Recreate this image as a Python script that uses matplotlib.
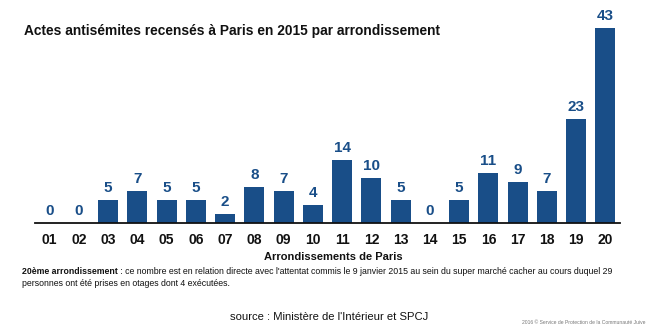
import matplotlib
matplotlib.use("Agg")
import matplotlib.pyplot as plt

arrondissements = ["01", "02", "03", "04", "05", "06", "07", "08", "09", "10",
                   "11", "12", "13", "14", "15", "16", "17", "18", "19", "20"]
actes = [0, 0, 5, 7, 5, 5, 2, 8, 7, 4, 14, 10, 5, 0, 5, 11, 9, 7, 23, 43]

title = "Actes antisémites recensés à Paris en 2015 par arrondissement"
xlabel = "Arrondissements de Paris"
note_bold = "20ème arrondissement"
note_line1 = " : ce nombre est en relation directe avec l'attentat commis le 9 janvier 2015 au sein du super marché cacher au cours duquel 29"
note_line2 = "personnes ont été prises en otages dont 4 exécutées."
source = "source : Ministère de l'Intérieur et SPCJ"
credit = "2016 © Service de Protection de la Communauté Juive"

BLUE = "#194e88"
plt.rcParams["font.family"] = ["Liberation Sans", "DejaVu Sans"]

W, H = 660, 330
fig = plt.figure(figsize=(W / 100, H / 100), dpi=100)
fig.patch.set_facecolor("white")

# axes spans the baseline (y=223 px from top) to the top of the figure area
left, right = 35 / W, 620 / W
bottom, top = (H - 223) / H, (H - 5) / H
ax = fig.add_axes([left, bottom, right - left, top - bottom])

x = list(range(len(arrondissements)))
bars = ax.bar(x, actes, width=0.68, color=BLUE, zorder=2)
ax.set_xlim(-0.5, len(x) - 0.5)
ax.set_ylim(0, 218 / 4.53)

for xi, v in zip(x, actes):
    ax.annotate(str(v), (xi, v), xytext=(0, 3.5), textcoords="offset points",
                ha="center", va="bottom", fontsize=11, fontweight="bold",
                color=BLUE)

for s in ["top", "right", "left"]:
    ax.spines[s].set_visible(False)
ax.spines["bottom"].set_linewidth(1.3)
ax.spines["bottom"].set_color("#111111")
ax.set_yticks([])
ax.set_xticks(x)
ax.set_xticklabels(arrondissements, fontsize=10, fontweight="bold",
                   color="#111111")
ax.tick_params(axis="x", length=0, pad=7)

fig.text(24 / W, 1 - 31 / H, title, fontsize=9.9, fontweight="bold",
         color="#111111", va="center", ha="left")
fig.text(333 / W, 1 - 257 / H, xlabel, fontsize=8, fontweight="bold",
         color="#111111", va="center", ha="center")

# footnote: bold lead-in followed by regular text on the same line
fig.canvas.draw()
renderer = fig.canvas.get_renderer()
t_bold = fig.text(22 / W, 1 - 271 / H, note_bold, fontsize=6.3,
                  fontweight="bold", color="#111111", va="center", ha="left")
bb = t_bold.get_window_extent(renderer=renderer)
fig.text(bb.x1 / W, 1 - 271 / H, note_line1, fontsize=6.3, color="#111111",
         va="center", ha="left")
fig.text(22 / W, 1 - 284 / H, note_line2, fontsize=6.3, color="#111111",
         va="center", ha="left")

fig.text(329 / W, 1 - 317 / H, source, fontsize=8.1, color="#111111",
         va="center", ha="center")
fig.text(645 / W, 1 - 323 / H, credit, fontsize=3.6, color="#777777",
         va="center", ha="right")

fig.savefig("out.png", dpi=100, facecolor="white")
